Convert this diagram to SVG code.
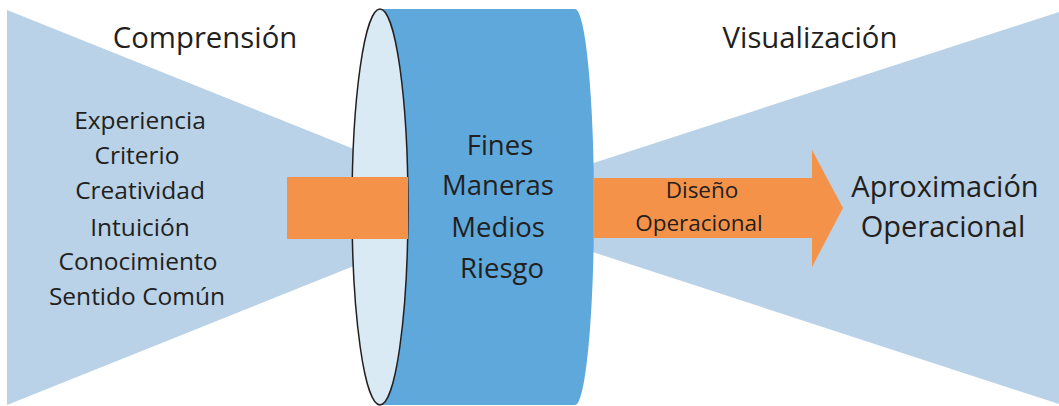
<svg xmlns="http://www.w3.org/2000/svg" width="1059" height="406" viewBox="0 0 1059 406">
<style>
.funnel{fill:#b9d2e8}
.orange{fill:#f5924a}
text{font-family:"Open Sans","Liberation Sans",sans-serif;fill:#231f20;text-anchor:middle}
.title{font-size:29.3px}
.list{font-size:24.5px}
.core{font-size:27.5px}
.small{font-size:22.5px}
.big{font-size:29px}
</style>
<rect width="1059" height="406" fill="#ffffff"/>
<g id="comprension">
<polygon class="funnel" points="7,10 500,207.5 7,405"/>
<text class="title" x="205" y="48">Comprensión</text>
<text class="list" x="140" y="129">Experiencia</text>
<text class="list" x="137" y="164">Criterio</text>
<text class="list" x="140" y="199">Creatividad</text>
<text class="list" x="140" y="236">Intuición</text>
<text class="list" x="138" y="270">Conocimiento</text>
<text class="list" x="137" y="305">Sentido Común</text>
</g>
<g id="visualizacion">
<polygon class="funnel" points="456,207.5 1059,12 1059,404"/>
<text class="title" x="810" y="48">Visualización</text>
</g>
<g id="cilindro">
<path d="M380,9 L575,9 A19,198 0 0 1 575,405 L380,405 Z" fill="#5fa8db"/>
<ellipse cx="380" cy="207" rx="28" ry="198" fill="#d9eaf5" stroke="#231f20" stroke-width="1.5"/>
<text class="core" x="500" y="155">Fines</text>
<text class="core" x="498" y="195">Maneras</text>
<text class="core" x="498" y="237">Medios</text>
<text class="core" x="502" y="278">Riesgo</text>
</g>
<g id="connectors">
<rect class="orange" x="287" y="177" width="121" height="62"/>
<polygon class="orange" points="593,178 812,178 812,150 843,208 812,267 812,238 593,238"/>
</g>
<g id="diseno">
<text class="small" x="702" y="198">Diseño</text>
<text class="small" x="699" y="231">Operacional</text>
</g>
<g id="aproximacion">
<text class="big" x="945" y="197">Aproximación</text>
<text class="big" x="943" y="237">Operacional</text>
</g>
</svg>
